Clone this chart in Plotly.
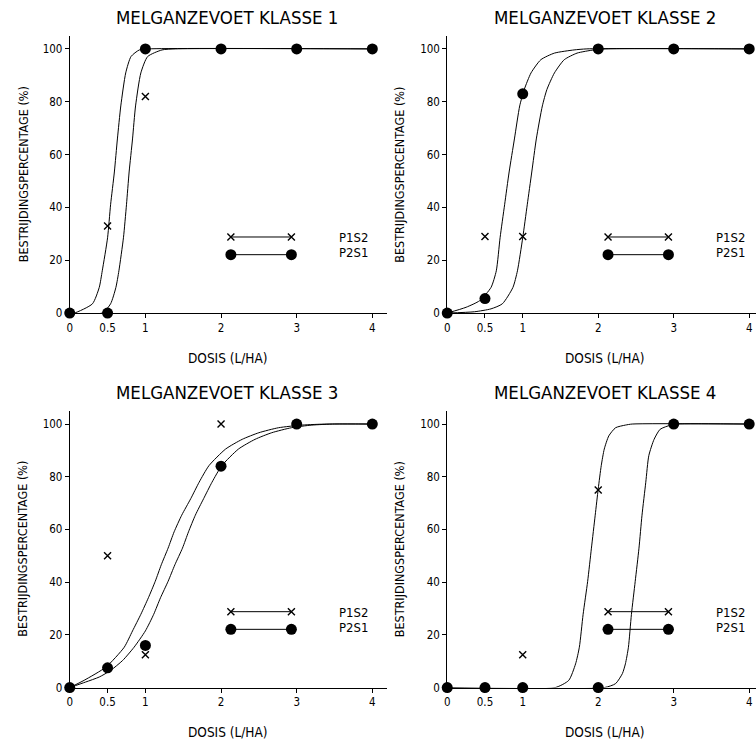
import plotly.graph_objects as go

# ---------------- data ----------------
doses = [0, 0.5, 1, 2, 3, 4]
tick_vals_x = [0, 0.5, 1, 2, 3, 4]
tick_text_x = ["0", "0.5", "1", "2", "3", "4"]
tick_vals_y = [0, 20, 40, 60, 80, 100]
tick_text_y = ["0", "20", "40", "60", "80", "100"]
titles = ["MELGANZEVOET KLASSE 1", "MELGANZEVOET KLASSE 2",
          "MELGANZEVOET KLASSE 3", "MELGANZEVOET KLASSE 4"]
series_names = ["P1S2", "P2S1"]

p1s2_k1 = [0, 33, 82, 100, 100, 100]
p2s1_k1 = [0, 0, 100, 100, 100, 100]
p1s2_k2 = [0, 29, 29, 100, 100, 100]
p2s1_k2 = [0, 5.5, 83, 100, 100, 100]
p1s2_k3 = [0, 50, 12.5, 100, 100, 100]
p2s1_k3 = [0, 7.5, 16, 84, 100, 100]
p1s2_k4 = [0, 0, 12.5, 75, 100, 100]
p2s1_k4 = [0, 0, 0, 0, 100, 100]

# fitted curves
curve1a_x = [0, 0.06, 0.30, 0.39, 0.43, 0.50, 0.54, 0.59, 0.63, 0.675, 0.74, 0.81, 0.92, 1.05, 4]
curve1a_y = [0, 0, 3.5, 9.7, 16, 28.5, 41, 53.4, 65.9, 78.4, 90.9, 97.1, 99.6, 100, 100]
curve1b_x = [0, 0.43, 0.54, 0.61, 0.65, 0.71, 0.75, 0.785, 0.83, 0.87, 0.94, 1.03, 1.22, 1.4, 4]
curve1b_y = [0, 0, 3.5, 9.7, 16, 28.5, 41, 53.4, 65.9, 78.4, 90.9, 97.1, 99.6, 100, 100]

curve2a_x = [0, 0.25, 0.43, 0.58, 0.65, 0.70, 0.76, 0.82, 0.89, 0.96, 1.02, 1.11, 1.24, 1.42, 1.68, 1.85, 4]
curve2a_y = [0, 2.2, 4.7, 9.7, 16, 28.5, 41, 53.4, 65.9, 78.4, 84.6, 90.9, 95.9, 98.4, 99.6, 100, 100]
curve2b_x = [0, 0.36, 0.58, 0.73, 0.87, 0.93, 1.0, 1.06, 1.12, 1.18, 1.26, 1.32, 1.42, 1.55, 1.72, 1.94, 2.1, 4]
curve2b_y = [0, 0.5, 1.6, 3.5, 9.7, 16, 28.5, 41, 53.4, 65.9, 78.4, 84.6, 90.9, 95.9, 98.4, 99.6, 100, 100]

curve3a_x = [0, 0.19, 0.48, 0.72, 0.83, 0.94, 1.04, 1.13, 1.21, 1.30, 1.38, 1.48, 1.60, 1.71, 1.84, 2.06, 2.28, 2.50, 2.76, 3.07, 3.4, 4]
curve3a_y = [0, 2.75, 7.8, 15.3, 21.5, 27.8, 34.1, 40.3, 46.6, 52.9, 59.1, 65.4, 71.7, 77.9, 84.2, 90.5, 94.2, 96.7, 98.6, 99.6, 100, 100]
curve3b_x = [0, 0.21, 0.39, 0.54, 0.70, 0.85, 1.0, 1.11, 1.20, 1.30, 1.39, 1.49, 1.57, 1.66, 1.77, 1.88, 2.01, 2.23, 2.45, 2.67, 2.93, 3.2, 3.5, 4]
curve3b_y = [0, 2.1, 4.0, 6.5, 10.3, 15.3, 21.5, 27.8, 34.1, 40.3, 46.6, 52.9, 59.1, 65.4, 71.7, 77.9, 84.2, 90.5, 94.2, 96.7, 98.6, 99.6, 100, 100]

curve4a_x = [0, 1.43, 1.61, 1.70, 1.75, 1.80, 1.86, 1.91, 1.96, 2.0, 2.04, 2.08, 2.14, 2.23, 2.36, 2.45, 4]
curve4a_y = [0, 0, 2.75, 9, 15.3, 27.8, 40.3, 52.9, 65.4, 75.4, 84.2, 90.5, 95.5, 98.6, 99.6, 100, 100]
curve4b_x = [0, 2.08, 2.23, 2.32, 2.36, 2.40, 2.44, 2.49, 2.54, 2.58, 2.63, 2.67, 2.74, 2.82, 2.96, 3.05, 4]
curve4b_y = [0, 0, 1.5, 5.3, 9, 15.3, 27.8, 40.3, 52.9, 65.4, 77.9, 88, 94.2, 98, 99.6, 100, 100]

panels = [
    (p1s2_k1, p2s1_k1, (curve1a_x, curve1a_y), (curve1b_x, curve1b_y)),
    (p1s2_k2, p2s1_k2, (curve2a_x, curve2a_y), (curve2b_x, curve2b_y)),
    (p1s2_k3, p2s1_k3, (curve3a_x, curve3a_y), (curve3b_x, curve3b_y)),
    (p1s2_k4, p2s1_k4, (curve4a_x, curve4a_y), (curve4b_x, curve4b_y)),
]

# ---------------- layout / style ----------------
W = H = 756
FONT = "DejaVu Sans Condensed, DejaVu Sans, sans-serif"
# pixel boxes of each plotting area: (left, right, bottom, top)
boxes = [(67, 386, 316, 36), (446, 756, 316, 36),
         (67, 386, 694, 414.7), (446, 756, 694, 414.7)]
xranges = [[0, 4.2], [0, 4.09], [0, 4.2], [0, 4.09]]
title_px = [(225, 18), (604, 18), (225, 396), (604, 396)]
xtitle_px = [(226, 361), (604, 361), (226, 739), (604, 739)]
ytitle_px = [(20, 176), (398, 176), (20, 554), (398, 554)]
LEG_X = [2.13, 2.93]
LEG_Y = [28.8, 22.1]
LEG_TEXT_Y = [28.65, 22.85]
LEG_TEXT_X = 3.55

fig = go.Figure()

def px_x(v):
    return v / W

def px_y(v):
    return 1 - v / H

for i, (p1, p2, ca, cb) in enumerate(panels):
    n = i + 1
    xa = "x" if n == 1 else f"x{n}"
    ya = "y" if n == 1 else f"y{n}"
    for cx, cy in (ca, cb):
        fig.add_trace(go.Scatter(x=cx, y=cy, mode="lines", xaxis=xa, yaxis=ya,
                                 line=dict(color="black", width=1, shape="spline", smoothing=0.6),
                                 showlegend=False, hoverinfo="skip"))
    fig.add_trace(go.Scatter(x=doses, y=p1, mode="markers", xaxis=xa, yaxis=ya,
                             name=series_names[0], cliponaxis=False, showlegend=False,
                             marker=dict(symbol="x-thin", size=7, color="black",
                                         line=dict(width=1.4, color="black"))))
    fig.add_trace(go.Scatter(x=doses, y=p2, mode="markers", xaxis=xa, yaxis=ya,
                             name=series_names[1], cliponaxis=False, showlegend=False,
                             marker=dict(symbol="circle", size=11, color="black")))
    # key
    fig.add_trace(go.Scatter(x=LEG_X, y=[LEG_Y[0]] * 2, mode="lines+markers", xaxis=xa, yaxis=ya,
                             line=dict(color="black", width=1), showlegend=False, hoverinfo="skip",
                             marker=dict(symbol="x-thin", size=7, color="black",
                                         line=dict(width=1.4, color="black"))))
    fig.add_trace(go.Scatter(x=LEG_X, y=[LEG_Y[1]] * 2, mode="lines+markers", xaxis=xa, yaxis=ya,
                             line=dict(color="black", width=1), showlegend=False, hoverinfo="skip",
                             marker=dict(symbol="circle", size=11, color="black")))
    for k in range(2):
        fig.add_annotation(x=LEG_TEXT_X, y=LEG_TEXT_Y[k], xref=xa, yref=ya, text=series_names[k],
                           showarrow=False, xanchor="left", yanchor="middle", borderpad=0,
                           font=dict(family=FONT, size=13, color="black"))

    l, r, b, t = boxes[i]
    axkey = "xaxis" if n == 1 else f"xaxis{n}"
    aykey = "yaxis" if n == 1 else f"yaxis{n}"
    fig.update_layout({
        axkey: dict(domain=[px_x(l), px_x(r)], range=xranges[i], anchor=ya,
                    showline=True, linecolor="black", linewidth=1, showgrid=False, zeroline=False,
                    ticks="outside", ticklen=4, tickcolor="black", tickwidth=1,
                    tickvals=tick_vals_x, ticktext=tick_text_x,
                    tickfont=dict(family=FONT, size=11.5, color="black")),
        aykey: dict(domain=[px_y(b), px_y(t)], range=[0, 105], anchor=xa,
                    showline=True, linecolor="black", linewidth=1, showgrid=False, zeroline=False,
                    ticks="outside", ticklen=4, tickcolor="black", tickwidth=1,
                    tickvals=tick_vals_y, ticktext=tick_text_y,
                    tickfont=dict(family=FONT, size=11.5, color="black")),
    })
    tx, ty = title_px[i]
    fig.add_annotation(x=px_x(tx), y=px_y(ty), xref="paper", yref="paper", text=titles[i],
                       showarrow=False, xanchor="center", yanchor="middle",
                       font=dict(family=FONT, size=18.5, color="black"))
    tx, ty = xtitle_px[i]
    fig.add_annotation(x=px_x(tx), y=px_y(ty), xref="paper", yref="paper", text="DOSIS (L/HA)",
                       showarrow=False, xanchor="center", yanchor="middle",
                       font=dict(family=FONT, size=13.5, color="black"))
    tx, ty = ytitle_px[i]
    fig.add_annotation(x=px_x(tx), y=px_y(ty), xref="paper", yref="paper",
                       text="BESTRIJDINGSPERCENTAGE (%)", textangle=-90,
                       showarrow=False, xanchor="center", yanchor="middle",
                       font=dict(family=FONT, size=12.5, color="black"))

fig.update_layout(width=W, height=H, margin=dict(l=0, r=0, t=0, b=0),
                  paper_bgcolor="white", plot_bgcolor="white", showlegend=False)

fig.write_html("out.html", config={"displayModeBar": False},
               post_script="document.body.style.margin='0';")
